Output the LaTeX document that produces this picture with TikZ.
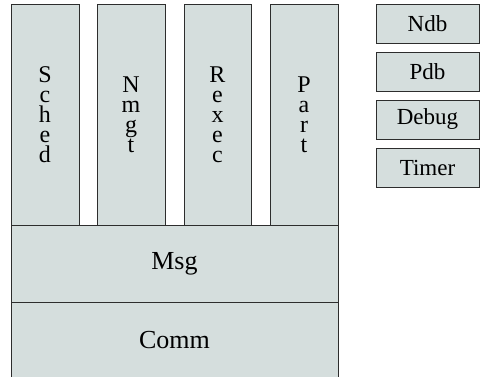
\documentclass[tikz,border=0pt]{standalone}
\usepackage{fontspec}
\setmainfont{Liberation Serif}
\definecolor{boxfill}{RGB}{213,222,221}
\definecolor{boxline}{RGB}{45,45,45}
\begin{document}
\begin{tikzpicture}[x=1pt,y=-1pt,
  layer/.style={draw=boxline, fill=boxfill, line width=0.9pt, rectangle,
    inner sep=0pt, outer sep=0pt, align=center},
  column/.style={layer, minimum width=68pt, minimum height=221pt,
    font=\fontsize{24}{20}\selectfont},
  band/.style={font=\fontsize{26}{28}\selectfont},
  toolbox/.style={layer, minimum width=103pt, minimum height=39pt,
    font=\fontsize{23}{25}\selectfont}]
\useasboundingbox (0,0) rectangle (480,377);

% stacked service columns
\node[column] (sched) at (45,114.5) {S\\c\\h\\e\\d};
\node[column] (nmgt)  at (131,114.5) {N\\m\\g\\t};
\node[column, minimum width=67pt] (rexec) at (217.5,114.5) {R\\e\\x\\e\\c};
\node[column] (part)  at (304,114.5) {P\\a\\r\\t};

% message and communication layers
\node[layer, band, minimum width=327pt, minimum height=77pt] (msg) at (174.5,263.5) {Msg};
\fill[boxfill] (11,302) rectangle (338,378);
\draw[boxline, line width=0.9pt] (11,378) -- (11,302) -- (338,302) -- (338,378);
\node[band] (comm) at (174.5,340) {Comm};

% side utilities
\node[toolbox] (ndb)   at (427.5,23.5)  {Ndb};
\node[toolbox] (pdb)   at (427.5,71.5)  {Pdb};
\node[toolbox] (debug) at (427.5,119.5) {Debug};
\node[toolbox] (timer) at (427.5,167.5) {Timer};
\end{tikzpicture}
\end{document}
